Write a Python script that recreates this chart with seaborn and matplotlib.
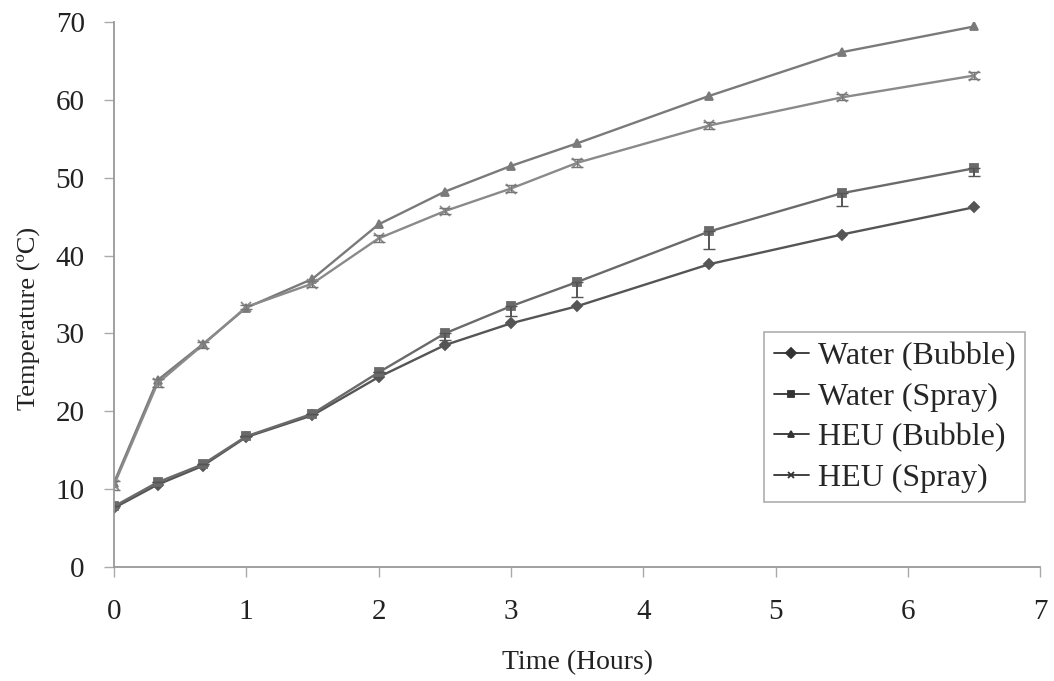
import matplotlib
matplotlib.use("Agg")
import matplotlib.pyplot as plt
import seaborn as sns
import pandas as pd

# Data
time_h = [0, 0.33, 0.67, 1, 1.5, 2, 2.5, 3, 3.5, 4.5, 5.5, 6.5]
water_bubble = [7.6, 10.6, 13.0, 16.7, 19.5, 24.4, 28.5, 31.3, 33.5, 38.9, 42.7, 46.2]
water_spray = [7.8, 10.9, 13.2, 16.8, 19.7, 25.0, 30.0, 33.5, 36.6, 43.1, 48.0, 51.2]
heu_bubble = [10.8, 24.0, 28.6, 33.3, 37.0, 44.0, 48.2, 51.5, 54.4, 60.5, 66.1, 69.4]
heu_spray = [10.5, 23.6, 28.5, 33.4, 36.4, 42.2, 45.7, 48.6, 51.9, 56.7, 60.3, 63.1]

# lower-side error bars on Water (Spray), small symmetric ones on HEU (Spray)
water_spray_err_low = [0, 0, 0, 0, 0, 0, 0.8, 1.2, 1.9, 2.3, 1.7, 1.0]
heu_spray_err = [0.6, 0.5, 0.4, 0.3, 0.4, 0.5, 0.4, 0.4, 0.5, 0.4, 0.4, 0.4]

series_names = ["Water (Bubble)", "Water (Spray)", "HEU (Bubble)", "HEU (Spray)"]
series_values = [water_bubble, water_spray, heu_bubble, heu_spray]

rows = []
for name, vals in zip(series_names, series_values):
    for t, v in zip(time_h, vals):
        rows.append({"Time": t, "Temperature": v, "Series": name})
df = pd.DataFrame(rows)

sns.set_style("white")
plt.rcParams["font.family"] = ["Liberation Serif", "DejaVu Serif"]

fig = plt.figure(figsize=(10.54, 6.81), dpi=100)
ax = fig.add_axes([0.108, 0.167, 0.879, 0.801])

palette = {"Water (Bubble)": "#555555", "Water (Spray)": "#6a6a6a",
           "HEU (Bubble)": "#7a7a7a", "HEU (Spray)": "#8a8a8a"}
markers = {"Water (Bubble)": "D", "Water (Spray)": "s",
           "HEU (Bubble)": "^", "HEU (Spray)": "x"}
sizes = {"Water (Bubble)": 5, "Water (Spray)": 6, "HEU (Bubble)": 6, "HEU (Spray)": 7}

for name in series_names:
    sub = df[df["Series"] == name]
    sns.lineplot(data=sub, x="Time", y="Temperature", ax=ax, color=palette[name],
                 marker=markers[name], markersize=sizes[name], markeredgewidth=1.3,
                 markeredgecolor=palette[name], linewidth=1.7, label=name)

ax.errorbar(time_h, water_spray, yerr=[water_spray_err_low, [0] * len(time_h)],
            fmt="none", ecolor="#555555", elinewidth=1.4, capsize=4)
ax.errorbar(time_h, heu_spray, yerr=heu_spray_err,
            fmt="none", ecolor="#777777", elinewidth=1.0, capsize=4)

ax.set_xlim(0, 7)
ax.set_ylim(0, 70)
ax.set_xticks(range(0, 8))
ax.set_yticks(range(0, 71, 10))

for side in ["top", "right"]:
    ax.spines[side].set_visible(False)
for side in ["left", "bottom"]:
    ax.spines[side].set_color("#999999")
    ax.spines[side].set_linewidth(1.3)

ax.tick_params(axis="both", which="major", bottom=True, left=True, labelsize=21,
               length=7, width=1, color="#aaaaaa", direction="out",
               labelcolor="#222222")
ax.tick_params(axis="y", pad=14)
ax.tick_params(axis="x", pad=16)

ax.set_xlabel("Time (Hours)", fontsize=20, color="#222222")
ax.set_ylabel("Temperature (ºC)", fontsize=19, color="#222222")
ax.xaxis.set_label_coords(0.5, -0.152)
ax.yaxis.set_label_coords(-0.080, 0.457)

leg = ax.legend(loc="lower right", bbox_to_anchor=(0.984, 0.119), fontsize=23,
                frameon=True, fancybox=False, edgecolor="#999999",
                handlelength=1.1, handletextpad=0.3, borderpad=0.3,
                labelspacing=0.35, borderaxespad=0)
leg.get_frame().set_linewidth(1.2)
for line in leg.get_lines():
    line.set_color("#333333")
    line.set_markeredgecolor("#333333")
    line.set_markerfacecolor("#333333")
    line.set_markersize(5)
    line.set_linewidth(1.3)

fig.savefig("out.png", dpi=100)
